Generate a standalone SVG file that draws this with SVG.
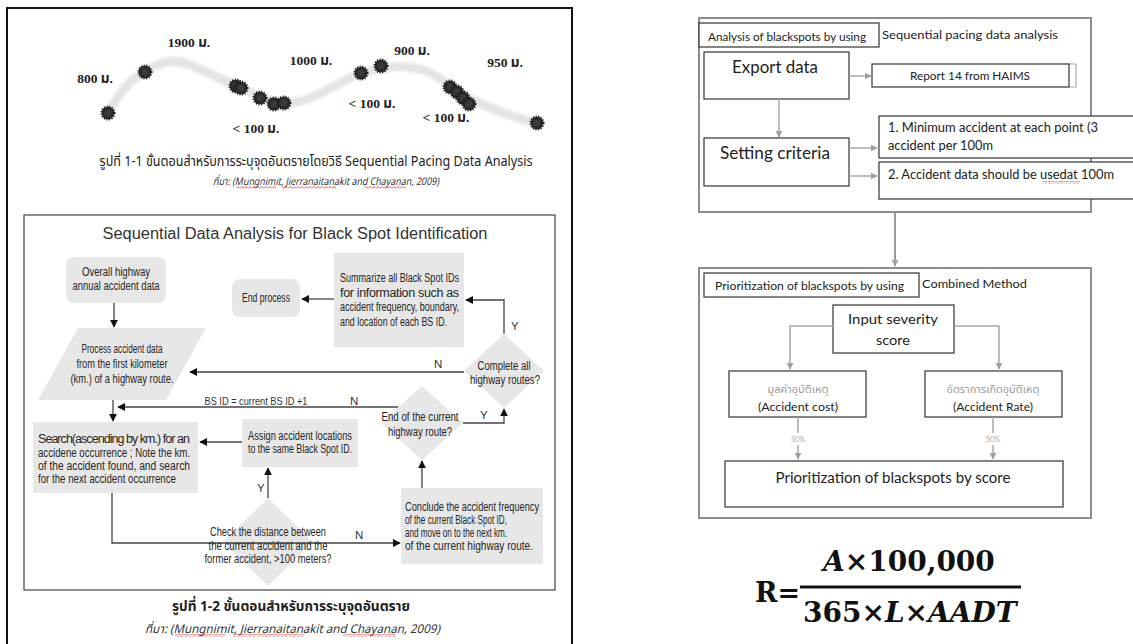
<svg xmlns="http://www.w3.org/2000/svg" width="1133" height="644" viewBox="0 0 1133 644">
  <defs>
    <style>
      .fc { font-family: "Liberation Sans", Arial, sans-serif; font-size: 12.5px; fill: #262626; }
      .mid { text-anchor: middle; }
      .node { fill: #e7e7e7; stroke: none; }
      .edge { stroke: #444; stroke-width: 1.3; fill: none; }
      .lbl { font-family: "Liberation Sans", Arial, sans-serif; font-size: 11.5px; fill: #333; }
      .road { font-family: "Liberation Serif", "Noto Sans Thai", "Noto Serif Thai", serif; font-weight: bold; font-size: 13.5px; fill: #222; text-anchor: middle; }
      .thai { font-family: "Noto Sans Thai", "Noto Sans Thai Looped", "Noto Sans", sans-serif; fill: #222; }
      .src { font-family: "Noto Sans Thai", "Noto Sans", sans-serif; font-style: italic; fill: #333; }
      .rp { font-family: Lato, "Open Sans", sans-serif; fill: #222; }
      .box { fill: #fff; stroke: #333; stroke-width: 1.2; }
      .frame { fill: none; stroke: #8c8c8c; stroke-width: 2; }
      .gline { stroke: #a8a8a8; stroke-width: 1.5; fill: none; }
      .math { font-family: "DejaVu Serif", "Liberation Serif", serif; font-weight: bold; fill: #111; }
    </style>
    <marker id="ah" viewBox="0 0 10 10" refX="9" refY="5" markerWidth="8" markerHeight="8" markerUnits="userSpaceOnUse" orient="auto">
      <path d="M0,0 L10,5 L0,10 z" fill="#111"/>
    </marker>
    <marker id="gah" viewBox="0 0 10 10" refX="9" refY="5" markerWidth="7" markerHeight="7" markerUnits="userSpaceOnUse" orient="auto">
      <path d="M0,0 L10,5 L0,10 z" fill="#a0a0a0"/>
    </marker>
    <pattern id="squig" width="4" height="3" patternUnits="userSpaceOnUse">
      <path d="M0,2.5 L2,0.5 L4,2.5" stroke="#d22" stroke-width="0.8" fill="none"/>
    </pattern>
    <filter id="soft" x="-10%" y="-50%" width="120%" height="200%">
      <feGaussianBlur stdDeviation="1.8"/>
    </filter>
    <symbol id="spot" viewBox="-10 -10 20 20" overflow="visible">
      <circle r="6.3" fill="#2a2a2a" stroke="#1e1e1e" stroke-width="2.4" stroke-dasharray="1.2 1.3"/>
      <circle r="3.5" fill="#3a3a3a"/>
    </symbol>
  </defs>

  <rect width="1133" height="644" fill="#fff"/>

  <!-- ===== Left page: road sketch ===== -->
  <rect x="7" y="8" width="565" height="660" fill="none" stroke="#111" stroke-width="2"/>

  <g id="road-sketch">
    <path d="M108,113 C118,95 130,78 145,72 C160,62 172,58 188,64 C208,72 222,80 240,88 C258,96 272,104 290,103 C318,100 340,80 362,73 C385,66 410,64 428,72 C445,80 455,90 472,100 C495,110 515,118 537,123" fill="none" stroke="#e4e4e4" stroke-width="9" stroke-linecap="round" filter="url(#soft)"/>
    <g>
      <use href="#spot" x="98" y="103" width="20" height="20"/>
      <use href="#spot" x="135" y="62" width="20" height="20"/>
      <use href="#spot" x="226" y="76" width="20" height="20"/>
      <use href="#spot" x="231" y="78" width="20" height="20"/>
      <use href="#spot" x="250" y="88" width="20" height="20"/>
      <use href="#spot" x="264" y="94" width="20" height="20"/>
      <use href="#spot" x="274" y="93" width="20" height="20"/>
      <use href="#spot" x="351" y="63" width="20" height="20"/>
      <use href="#spot" x="371" y="56" width="20" height="20"/>
      <use href="#spot" x="440" y="77" width="20" height="20"/>
      <use href="#spot" x="447" y="82" width="20" height="20"/>
      <use href="#spot" x="453" y="88" width="20" height="20"/>
      <use href="#spot" x="459" y="94" width="20" height="20"/>
      <use href="#spot" x="527" y="113" width="20" height="20"/>
    </g>
    <text class="road" x="95" y="83">800 ม.</text>
    <text class="road" x="189" y="47">1900 ม.</text>
    <text class="road" x="311" y="65">1000 ม.</text>
    <text class="road" x="412" y="55">900 ม.</text>
    <text class="road" x="505" y="67">950 ม.</text>
    <text class="road" x="256" y="133" fill="#333">&lt; 100 ม.</text>
    <text class="road" x="372" y="108" fill="#333">&lt; 100 ม.</text>
    <text class="road" x="446" y="122" fill="#333">&lt; 100 ม.</text>
  </g>

  <text class="thai" x="316" y="166" font-size="13.5" text-anchor="middle" textLength="433" lengthAdjust="spacingAndGlyphs">รูปที่ 1-1 ขั้นตอนสำหรับการระบุจุดอันตรายโดยวิธี Sequential Pacing Data Analysis</text>
  <text class="src" x="213" y="185" font-size="10.5" textLength="226" lengthAdjust="spacingAndGlyphs">ที่มา: (Mungnimit, Jierranaitanakit and Chayanan, 2009)</text>
  <rect x="236" y="186" width="40" height="3" fill="url(#squig)"/>
  <rect x="282" y="186" width="54" height="3" fill="url(#squig)"/>
  <rect x="365" y="186" width="41" height="3" fill="url(#squig)"/>

  <!-- ===== Left page: flowchart ===== -->
  <rect x="24" y="215" width="531" height="375" fill="#fff" stroke="#444" stroke-width="1.2"/>
  <text x="295" y="239" font-family="'Liberation Sans', Arial, sans-serif" font-size="16" fill="#333" text-anchor="middle" textLength="385" lengthAdjust="spacingAndGlyphs">Sequential Data Analysis for Black Spot Identification</text>

  <g id="n-overall">
    <rect class="node" x="66" y="257" width="100" height="46" rx="8"/>
    <text class="fc mid" x="116" y="276" textLength="68" lengthAdjust="spacingAndGlyphs">Overall highway</text>
    <text class="fc mid" x="116" y="290" textLength="87" lengthAdjust="spacingAndGlyphs">annual accident data</text>
  </g>
  <g id="n-end">
    <rect class="node" x="232" y="279" width="68" height="38" rx="8"/>
    <text class="fc mid" x="266" y="302" textLength="48" lengthAdjust="spacingAndGlyphs">End process</text>
  </g>
  <g id="n-summarize">
    <rect class="node" x="334" y="253" width="130" height="94"/>
    <text class="fc" x="340" y="282" textLength="119" lengthAdjust="spacingAndGlyphs">Summarize all Black Spot IDs</text>
    <text class="fc" x="340" y="297" textLength="119" lengthAdjust="spacing">for information such as</text>
    <text class="fc" x="340" y="311" textLength="119" lengthAdjust="spacingAndGlyphs">accident frequency, boundary,</text>
    <text class="fc" x="340" y="326" textLength="107" lengthAdjust="spacingAndGlyphs">and location of each BS ID.</text>
  </g>
  <g id="n-complete">
    <polygon class="node" points="504,334 544,371 504,408 464,371"/>
    <text class="fc mid" x="504" y="370" textLength="53" lengthAdjust="spacingAndGlyphs">Complete all</text>
    <text class="fc mid" x="505" y="384" textLength="70" lengthAdjust="spacingAndGlyphs">highway routes?</text>
  </g>
  <g id="n-process">
    <polygon class="node" points="78,328 206,328 166,400 38,400"/>
    <text class="fc mid" x="122" y="353" textLength="81" lengthAdjust="spacingAndGlyphs">Process accident data</text>
    <text class="fc mid" x="122" y="368" textLength="91" lengthAdjust="spacingAndGlyphs">from the first kilometer</text>
    <text class="fc mid" x="122" y="383" textLength="103" lengthAdjust="spacingAndGlyphs">(km.) of a highway route.</text>
  </g>
  <g id="n-endroute">
    <polygon class="node" points="422,386 463,423 422,460 381,423"/>
    <text class="fc mid" x="420" y="421" textLength="77" lengthAdjust="spacingAndGlyphs">End of the current</text>
    <text class="fc mid" x="420" y="436" textLength="64" lengthAdjust="spacingAndGlyphs">highway route?</text>
  </g>
  <g id="n-search">
    <rect class="node" x="33" y="422" width="165" height="71"/>
    <text class="fc" x="38" y="443" textLength="152" lengthAdjust="spacing">Search(ascending by km.) for an</text>
    <text class="fc" x="38" y="457" textLength="152" lengthAdjust="spacingAndGlyphs">accidene occurrence ; Note the km.</text>
    <text class="fc" x="38" y="470" textLength="152" lengthAdjust="spacingAndGlyphs">of the accident found, and search</text>
    <text class="fc" x="38" y="483" textLength="138" lengthAdjust="spacingAndGlyphs">for the next accident occurrence</text>
  </g>
  <g id="n-assign">
    <rect class="node" x="242" y="419" width="116" height="48"/>
    <text class="fc mid" x="300" y="440" textLength="104" lengthAdjust="spacingAndGlyphs">Assign accident locations</text>
    <text class="fc mid" x="300" y="453" textLength="104" lengthAdjust="spacingAndGlyphs">to the same Black Spot ID.</text>
  </g>
  <g id="n-check">
    <polygon class="node" points="268,498 313,542 268,586 223,542"/>
  </g>
  <g id="n-conclude">
    <rect class="node" x="401" y="488" width="142" height="76"/>
    <text class="fc" x="405" y="511" textLength="134" lengthAdjust="spacingAndGlyphs">Conclude the accident frequency</text>
    <text class="fc" x="405" y="524" textLength="102" lengthAdjust="spacingAndGlyphs">of the current Black Spot ID,</text>
    <text class="fc" x="405" y="537" textLength="102" lengthAdjust="spacingAndGlyphs">and move on to the next km.</text>
    <text class="fc" x="405" y="550" textLength="128" lengthAdjust="spacingAndGlyphs">of the current highway route.</text>
  </g>

  <g id="flow-connectors">
    <line class="edge" x1="114" y1="303" x2="114" y2="327" marker-end="url(#ah)"/>
    <line class="edge" x1="334" y1="299" x2="302" y2="299" marker-end="url(#ah)"/>
    <polyline class="edge" points="504,334 504,300 466,300" marker-end="url(#ah)"/>
    <line class="edge" x1="464" y1="372" x2="190" y2="372" marker-end="url(#ah)"/>
    <line class="edge" x1="113" y1="400" x2="113" y2="421" marker-end="url(#ah)"/>
    <line class="edge" x1="398" y1="407" x2="118" y2="407" marker-end="url(#ah)"/>
    <polyline class="edge" points="463,423 504,423 504,409" marker-end="url(#ah)"/>
    <line class="edge" x1="242" y1="442" x2="200" y2="442" marker-end="url(#ah)"/>
    <line class="edge" x1="268" y1="498" x2="268" y2="468" marker-end="url(#ah)"/>
    <polyline class="edge" points="112,493 112,543 400,543" marker-end="url(#ah)"/>
    <line class="edge" x1="422" y1="488" x2="422" y2="461" marker-end="url(#ah)"/>
    <text class="lbl" x="511" y="330">Y</text>
    <text class="lbl" x="434" y="368">N</text>
    <text class="lbl" x="256" y="405" text-anchor="middle" textLength="103" lengthAdjust="spacingAndGlyphs">BS ID = current BS ID +1</text>
    <text class="lbl" x="350" y="405">N</text>
    <text class="lbl" x="480" y="419">Y</text>
    <text class="lbl" x="257" y="492">Y</text>
    <text class="lbl" x="355" y="539" font-size="11">N</text>
  </g>
  <!-- decision text sits over the line running through the diamond -->
  <g id="n-check-text" font-size="11.5">
    <text class="fc mid" x="268" y="536" font-size="11.5" textLength="116" lengthAdjust="spacingAndGlyphs">Check the distance between</text>
    <text class="fc mid" x="268" y="550" font-size="11.5" textLength="119" lengthAdjust="spacingAndGlyphs">the current accident and the</text>
    <text class="fc mid" x="268" y="563" font-size="11.5" textLength="127" lengthAdjust="spacingAndGlyphs">former accident, &gt;100 meters?</text>
  </g>

  <text class="thai" x="291" y="611" font-size="14.5" font-weight="bold" text-anchor="middle" textLength="238" lengthAdjust="spacingAndGlyphs">รูปที่ 1-2 ขั้นตอนสำหรับการระบุจุดอันตราย</text>
  <text class="src" x="145" y="633" font-size="12" textLength="295" lengthAdjust="spacingAndGlyphs">ที่มา: (Mungnimit, Jierranaitanakit and Chayanan, 2009)</text>
  <rect x="175" y="634" width="50" height="3" fill="url(#squig)"/>
  <rect x="233" y="634" width="71" height="3" fill="url(#squig)"/>
  <rect x="343" y="634" width="53" height="3" fill="url(#squig)"/>

  <!-- ===== Right page: blackspot analysis ===== -->
  <g id="panel-analysis">
    <rect class="frame" x="699" y="18" width="392" height="194"/>
    <rect class="box" x="699" y="23" width="180" height="24"/>
    <text class="rp" x="708" y="41" font-size="11" textLength="158" lengthAdjust="spacingAndGlyphs">Analysis of blackspots by using</text>
    <text class="rp" x="882" y="39" font-size="11.5" fill="#555" textLength="176" lengthAdjust="spacingAndGlyphs">Sequential pacing data analysis</text>
  </g>
  <g id="r-export">
    <rect class="box" x="704" y="52" width="145" height="47"/>
    <text class="rp" x="732" y="73" font-size="17" textLength="86" lengthAdjust="spacingAndGlyphs">Export data</text>
  </g>
  <g id="r-report">
    <polyline points="1069,64 1076,64 1076,87 1069,87" fill="none" stroke="#aaa" stroke-width="1.2"/>
    <rect class="box" x="872" y="64" width="197" height="23"/>
    <text class="rp" x="970" y="80" font-size="11" text-anchor="middle" textLength="120" lengthAdjust="spacingAndGlyphs">Report 14 from HAIMS</text>
  </g>
  <g id="r-setting">
    <rect class="box" x="704" y="138" width="145" height="48"/>
    <text class="rp" x="720" y="159" font-size="18" textLength="110" lengthAdjust="spacingAndGlyphs">Setting criteria</text>
  </g>
  <g id="r-crit1">
    <rect class="box" x="879" y="116" width="260" height="42"/>
    <text class="rp" x="888" y="132" font-size="12.5" textLength="210" lengthAdjust="spacingAndGlyphs">1. Minimum accident at each point (3</text>
    <text class="rp" x="888" y="150" font-size="12.5" textLength="105" lengthAdjust="spacingAndGlyphs">accident per 100m</text>
  </g>
  <g id="r-crit2">
    <rect class="box" x="879" y="162" width="260" height="37"/>
    <text class="rp" x="888" y="179" font-size="12.5" textLength="226" lengthAdjust="spacingAndGlyphs">2. Accident data should be usedat 100m</text>
    <rect x="1042" y="181" width="38" height="3" fill="url(#squig)"/>
  </g>

  <g id="panel-priority">
    <rect class="frame" x="699" y="268" width="392" height="250"/>
    <rect class="box" x="704" y="273" width="215" height="24"/>
    <text class="rp" x="715" y="290" font-size="11" textLength="189" lengthAdjust="spacingAndGlyphs">Prioritization of blackspots by using</text>
    <text class="rp" x="922" y="288" font-size="11.5" fill="#555" textLength="105" lengthAdjust="spacingAndGlyphs">Combined Method</text>
  </g>
  <g id="r-input">
    <rect class="box" x="833" y="305" width="121" height="48"/>
    <text class="rp" x="893" y="324" font-size="14" text-anchor="middle" textLength="90" lengthAdjust="spacingAndGlyphs">Input severity</text>
    <text class="rp" x="893" y="345" font-size="14" text-anchor="middle" textLength="34" lengthAdjust="spacingAndGlyphs">score</text>
  </g>
  <g id="r-cost">
    <rect class="box" x="729" y="371" width="137" height="46" stroke="#555"/>
    <text x="798" y="393" font-family="'Noto Sans Thai', 'Noto Sans', sans-serif" font-size="11" fill="#9a9a9a" text-anchor="middle">มูลค่าอุบัติเหตุ</text>
    <text class="rp" x="798" y="411" font-size="11" fill="#9a9a9a" text-anchor="middle" textLength="80" lengthAdjust="spacingAndGlyphs">(Accident cost)</text>
  </g>
  <g id="r-rate">
    <rect class="box" x="925" y="371" width="137" height="46" stroke="#555"/>
    <text x="993" y="393" font-family="'Noto Sans Thai', 'Noto Sans', sans-serif" font-size="11" fill="#9a9a9a" text-anchor="middle">อัตราการเกิดอุบัติเหตุ</text>
    <text class="rp" x="993" y="411" font-size="11" fill="#9a9a9a" text-anchor="middle" textLength="80" lengthAdjust="spacingAndGlyphs">(Accident Rate)</text>
  </g>
  <g id="r-score">
    <rect class="box" x="725" y="461" width="338" height="46"/>
    <text class="rp" x="893" y="483" font-size="14.5" text-anchor="middle" textLength="235" lengthAdjust="spacingAndGlyphs">Prioritization of blackspots by score</text>
  </g>

  <g id="right-connectors">
    <line class="gline" x1="849" y1="76" x2="871" y2="76" marker-end="url(#gah)"/>
    <line class="gline" x1="779" y1="99" x2="779" y2="137" marker-end="url(#gah)"/>
    <line class="gline" x1="849" y1="148" x2="877" y2="148" marker-end="url(#gah)"/>
    <line class="gline" x1="849" y1="176" x2="877" y2="176" marker-end="url(#gah)"/>
    <line x1="895" y1="212" x2="895" y2="266" stroke="#999" stroke-width="2" marker-end="url(#gah)"/>
    <polyline class="gline" points="833,326 790,326 790,369" marker-end="url(#gah)"/>
    <polyline class="gline" points="954,326 999,326 999,369" marker-end="url(#gah)"/>
    <line class="gline" x1="798" y1="417" x2="798" y2="433" stroke="#ccc"/>
    <line class="gline" x1="798" y1="445" x2="798" y2="459" stroke="#ccc" marker-end="url(#gah)"/>
    <line class="gline" x1="993" y1="417" x2="993" y2="433" stroke="#ccc"/>
    <line class="gline" x1="993" y1="445" x2="993" y2="459" stroke="#ccc" marker-end="url(#gah)"/>
    <text x="798" y="442" font-family="Lato, sans-serif" font-size="7.5" fill="#aaa" text-anchor="middle">50%</text>
    <text x="993" y="442" font-family="Lato, sans-serif" font-size="7.5" fill="#aaa" text-anchor="middle">50%</text>
  </g>

  <!-- accident rate formula -->
  <g id="formula">
    <text class="math" x="755" y="602" font-size="27">R=</text>
    <text class="math" x="823" y="571" font-size="28"><tspan font-style="italic">A</tspan>×100,000</text>
    <rect x="800" y="585.5" width="221" height="3" fill="#111"/>
    <text class="math" x="803" y="622" font-size="28">365×<tspan font-style="italic">L</tspan>×<tspan font-style="italic">AADT</tspan></text>
  </g>
</svg>
